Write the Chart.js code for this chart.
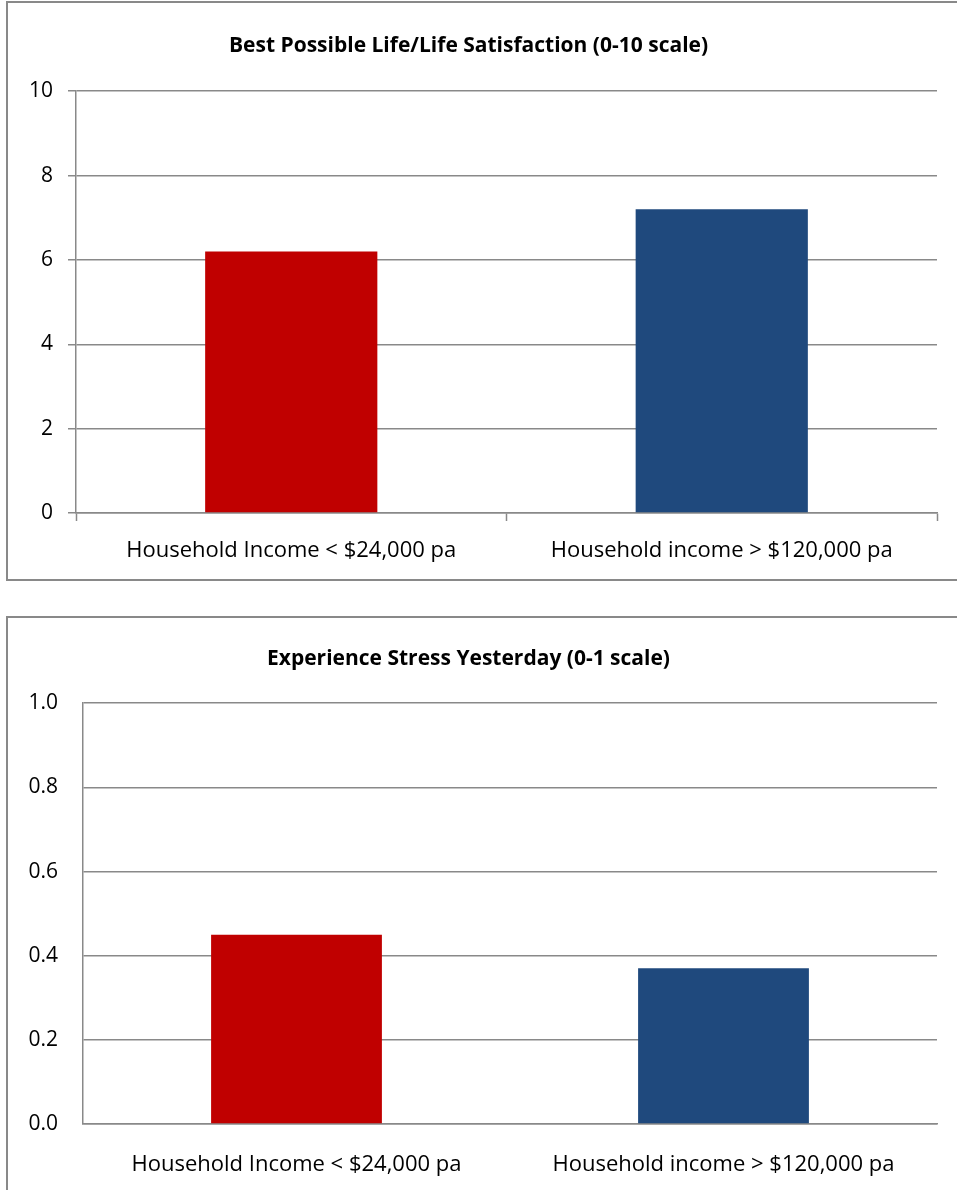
<!DOCTYPE html>
<html>
<head>
<meta charset="utf-8">
<script src="https://cdn.jsdelivr.net/npm/chart.js@4"></script>
<style>
  html, body { margin: 0; padding: 0; background: #fff; }
  body { position: relative; width: 957px; height: 1190px; overflow: hidden; }
  .frame { position: absolute; border: 2px solid #898989; box-sizing: border-box; }
  .holder { position: absolute; left: 0; width: 957px; }
  canvas { display: block; }
</style>
</head>
<body>
<div class="frame" style="left:6px; top:1px; width:1000px; height:580px;"></div>
<div class="frame" style="left:6px; top:616px; width:1000px; height:700px;"></div>
<div class="holder" style="top:0; height:578px;"><canvas id="lifeChart"></canvas></div>
<div class="holder" style="top:619px; height:571px;"><canvas id="stressChart"></canvas></div>

<script>
// Survey groups compared in both panels
const categories = ['Household Income < $24,000 pa', 'Household income > $120,000 pa'];

// Best possible life / life satisfaction, 0-10 scale
const lifeSatisfaction = [6.2, 7.2];
const lifeTicks = [0, 2, 4, 6, 8, 10];

// Share experiencing stress yesterday, 0-1 scale
const stressYesterday = [0.45, 0.37];
const stressTicks = [0, 0.2, 0.4, 0.6, 0.8, 1.0];

const barColors = ['#C00000', '#1F497D'];

const FONT = '"Open Sans", Lato, sans-serif';
const GRID = '#898989';

function makeChart(id, opts) {
  return new Chart(document.getElementById(id), {
    type: 'bar',
    data: {
      labels: categories,
      datasets: [{
        data: opts.values,
        backgroundColor: barColors,
        borderWidth: 0,
        categoryPercentage: 1.0,
        barPercentage: 0.4
      }]
    },
    options: {
      responsive: true,
      maintainAspectRatio: false,
      animation: false,
      events: [],
      layout: { padding: { left: 0, right: 20, top: 0, bottom: 0 } },
      plugins: {
        legend: { display: false },
        tooltip: { enabled: false },
        title: {
          display: true,
          text: opts.title,
          color: '#000',
          font: { family: FONT, size: 21, weight: 'bold', lineHeight: 1.2 },
          padding: opts.titlePadding
        }
      },
      scales: {
        x: {
          offset: true,
          grid: {
            display: opts.xTicks,
            offset: true,
            drawOnChartArea: false,
            drawTicks: opts.xTicks,
            tickLength: 8,
            tickColor: GRID,
            tickWidth: 1.5
          },
          border: { display: true, color: GRID, width: 1.5 },
          ticks: {
            color: '#000',
            font: { family: FONT, size: 22 },
            padding: opts.xPad,
            maxRotation: 0,
            autoSkip: false
          },
          afterFit: s => { s.height = opts.xHeight; }
        },
        y: {
          min: opts.ticks[0],
          max: opts.ticks[opts.ticks.length - 1],
          afterBuildTicks: s => { s.ticks = opts.ticks.map(v => ({ value: v })); },
          grid: {
            color: GRID,
            lineWidth: 1.5,
            drawTicks: opts.yTicks,
            tickLength: 8,
            tickColor: GRID,
            tickWidth: 1.5
          },
          border: { display: true, color: GRID, width: 1.5 },
          ticks: {
            color: '#000',
            font: { family: FONT, size: 21 },
            padding: opts.yPad,
            callback: v => opts.fmt(v)
          },
          afterFit: s => { s.width = opts.yWidth; }
        }
      }
    }
  });
}

makeChart('lifeChart', {
  values: lifeSatisfaction,
  ticks: lifeTicks,
  title: 'Best Possible Life/Life Satisfaction (0-10 scale)',
  titlePadding: { top: 33, bottom: 33 },
  xTicks: true, yTicks: true,
  xPad: 17, xHeight: 65,
  yPad: 15, yWidth: 76,
  fmt: v => String(v)
});

makeChart('stressChart', {
  values: stressYesterday,
  ticks: stressTicks,
  title: 'Experience Stress Yesterday (0-1 scale)',
  titlePadding: { top: 27, bottom: 32 },
  xTicks: false, yTicks: false,
  xPad: 28, xHeight: 66,
  yPad: 25, yWidth: 83,
  fmt: v => v.toFixed(1)
});
</script>
</body>
</html>
